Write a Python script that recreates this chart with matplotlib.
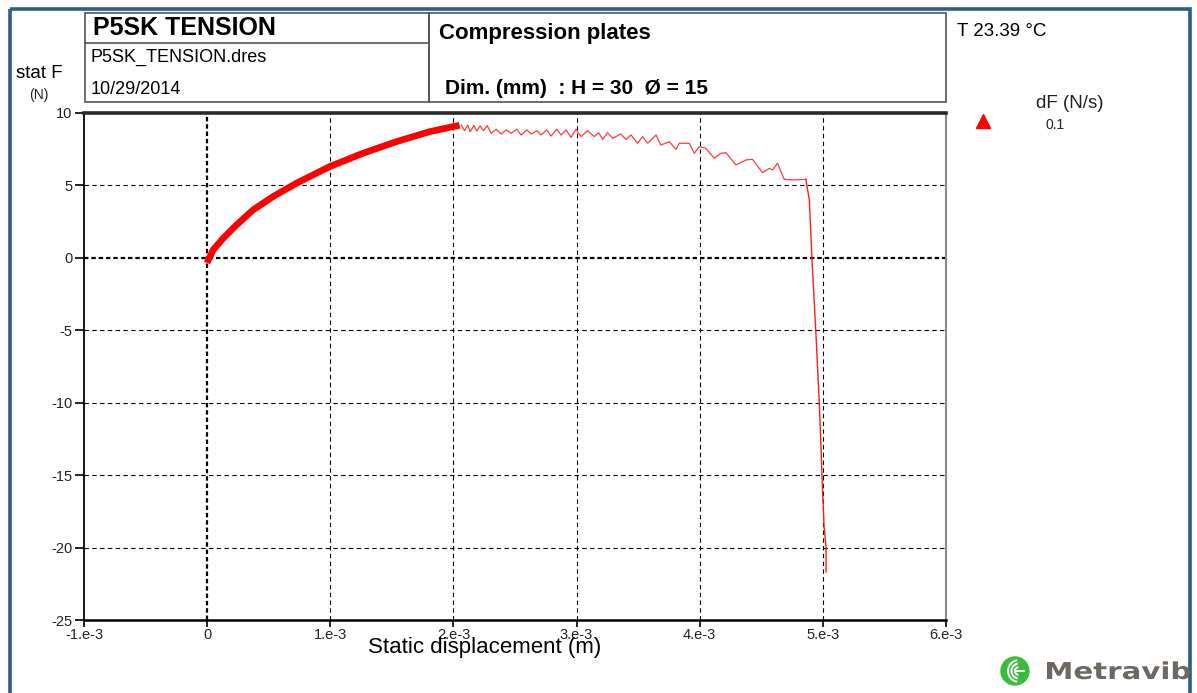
import matplotlib
matplotlib.use("Agg")
import matplotlib.pyplot as plt
from matplotlib.patches import Rectangle, Circle, Arc, PathPatch
from matplotlib.textpath import TextPath
from matplotlib.font_manager import FontProperties
from matplotlib.transforms import Affine2D

W, H = 1197, 693

# ---------------- data ----------------
x_ticks = [-1e-3, 0, 1e-3, 2e-3, 3e-3, 4e-3, 5e-3, 6e-3]
x_tick_labels = ["-1.e-3", "0", "1.e-3", "2.e-3", "3.e-3", "4.e-3", "5.e-3", "6.e-3"]
y_ticks = [-25, -20, -15, -10, -5, 0, 5, 10]
y_tick_labels = ["-25", "-20", "-15", "-10", "-5", "0", "5", "10"]

# displacement values in mm (1e-3 m), force in N
ramp_disp = [0.0, 0.01, 0.049, 0.13, 0.238, 0.373, 0.535, 0.725, 0.995, 1.265, 1.536, 1.806, 2.02, 2.05]
ramp_force = [-0.35, -0.14, 0.55, 1.35, 2.27, 3.31, 4.23, 5.15, 6.30, 7.22, 8.02, 8.71, 9.10, 9.15]

saw_disp = [2.065, 2.090, 2.117, 2.136, 2.166, 2.190, 2.217, 2.244, 2.274, 2.306,
            2.347, 2.388, 2.428, 2.469, 2.514, 2.550, 2.596, 2.631, 2.677, 2.712,
            2.758, 2.793, 2.839, 2.874, 2.915, 2.955, 2.996, 3.036, 3.090, 3.144,
            3.179, 3.212, 3.252, 3.293, 3.360, 3.401, 3.442, 3.496, 3.536, 3.577,
            3.645, 3.685, 3.753, 3.807, 3.834, 3.915, 3.956, 3.996, 4.050, 4.118,
            4.172, 4.213, 4.294, 4.375, 4.429, 4.510, 4.565, 4.592, 4.632, 4.686,
            4.754, 4.862]
saw_force = [9.17, 8.78, 9.17, 8.71, 9.13, 8.76, 9.11, 8.78, 9.13, 8.60,
             8.88, 8.55, 8.83, 8.60, 8.88, 8.48, 8.83, 8.55, 8.78, 8.48,
             8.83, 8.41, 8.88, 8.48, 8.83, 8.32, 8.88, 8.37, 8.78, 8.37,
             8.64, 8.18, 8.64, 8.25, 8.55, 8.18, 8.48, 7.91, 8.37, 7.91,
             8.48, 7.79, 8.02, 7.49, 7.91, 7.91, 7.22, 7.68, 7.56, 6.87,
             7.22, 7.26, 6.41, 6.76, 6.80, 5.88, 6.18, 6.07, 6.53, 5.42,
             5.38, 5.42]

drop_disp = [4.862, 4.89, 4.912, 4.945, 4.970, 4.985, 4.994, 5.010, 5.026, 5.026]
drop_force = [5.42, 4.0, -0.14, -5.46, -9.81, -13.05, -15.33, -18.58, -19.96, -21.68]

# ---------------- figure ----------------
fig = plt.figure(figsize=(W / 100, H / 100), dpi=100)
fig.patch.set_facecolor("white")

def fx(px):
    return px / W

def fy(py):
    return 1 - py / H

ax_left, ax_right, ax_top, ax_bot = 84, 946, 113, 620
ax = fig.add_axes([fx(ax_left), fy(ax_bot), fx(ax_right) - fx(ax_left), fy(ax_top) - fy(ax_bot)])
ax.set_xlim(-1e-3, 6e-3)
ax.set_ylim(-25, 10)

tick_font = ["Liberation Sans Narrow", "Liberation Sans", "DejaVu Sans"]

ax.set_xticks(x_ticks)
ax.set_xticklabels(x_tick_labels, fontfamily=tick_font, fontsize=10.5, color="#222222")
ax.set_yticks(y_ticks)
ax.set_yticklabels(y_tick_labels, fontfamily=tick_font, fontsize=10.5, color="#222222")
ax.tick_params(axis="x", direction="out", length=5, width=1.2, pad=0.5, color="black")
ax.tick_params(axis="y", direction="out", length=6.5, width=1.2, pad=2, color="black")

# grid
for xv in x_ticks[1:-1]:
    if xv == 0:
        ax.axvline(xv, color="black", lw=1.6, linestyle=(0, (2, 1.3)), zorder=1)
    else:
        ax.axvline(xv, color="black", lw=0.8, linestyle=(0, (4, 3)), zorder=1)
for yv in y_ticks[1:-1]:
    if yv == 0:
        ax.axhline(yv, color="black", lw=1.6, linestyle=(0, (2, 1.3)), zorder=1)
    else:
        ax.axhline(yv, color="black", lw=0.8, linestyle=(0, (4, 3)), zorder=1)

ax.spines["top"].set_linewidth(2.6)
ax.spines["top"].set_color("#2a2a2a")
ax.spines["right"].set_linewidth(1.5)
ax.spines["right"].set_color("#8a8a8a")
ax.spines["left"].set_linewidth(1.3)
ax.spines["left"].set_color("black")
ax.spines["bottom"].set_linewidth(1.8)
ax.spines["bottom"].set_color("black")

# data curves
ax.plot([d * 1e-3 for d in ramp_disp], ramp_force, color="#ff0000", lw=4.8,
        solid_capstyle="butt", zorder=3)
ax.plot([d * 1e-3 for d in saw_disp], saw_force, color="#ff3a3a", lw=0.9, zorder=3)
ax.plot([d * 1e-3 for d in drop_disp], drop_force, color="#ff1a1a", lw=1.0, zorder=3)

# ---------------- overlay in pixel coordinates ----------------
ov = fig.add_axes([0, 0, 1, 1], zorder=5)
ov.set_xlim(0, W)
ov.set_ylim(H, 0)
ov.axis("off")
ov.patch.set_alpha(0)

frame_col = "#2e5d8a"
ov.add_patch(Rectangle((10, 9), 1180, 720, fill=False, ec=frame_col, lw=2.6))

box_col = "#555555"
ov.add_patch(Rectangle((85, 13), 344, 89, fill=False, ec=box_col, lw=1.2))
ov.plot([85, 429], [43, 43], color=box_col, lw=1.2)
ov.add_patch(Rectangle((429, 13), 517, 89, fill=False, ec=box_col, lw=1.2))

txt_font = ["Liberation Sans", "DejaVu Sans"]
ov.text(93, 28, "P5SK TENSION", fontsize=18, fontweight="bold", family=txt_font,
        ha="left", va="center", color="black")
ov.text(91, 57, "P5SK_TENSION.dres", fontsize=13, family=txt_font,
        ha="left", va="center", color="black")
ov.text(91, 90, "10/29/2014", fontsize=13, family=txt_font,
        ha="left", va="center", color="black")
ov.text(439, 34, "Compression plates", fontsize=16, fontweight="bold", family=txt_font,
        ha="left", va="center", color="black")
ov.text(445, 89, "Dim. (mm)  : H = 30  Ø = 15", fontsize=15, fontweight="bold",
        family=txt_font, ha="left", va="center", color="black")
ov.text(16, 73, "stat F", fontsize=13.5, family=txt_font, ha="left", va="center", color="black")
ov.text(39, 95, "(N)", fontsize=10, family=txt_font, ha="center", va="center", color="#222222")
ov.text(957, 31, "T 23.39 °C", fontsize=13.5, family=txt_font, ha="left", va="center", color="black")
ov.text(1036, 103, "dF (N/s)", fontsize=13.5, family=txt_font, ha="left", va="center", color="#222222")
ov.text(1045, 125, "0.1", fontsize=10, family=txt_font, ha="left", va="center", color="#222222")
ov.plot([983], [121], marker="^", color="red", markersize=10, linestyle="none")

ov.text(485, 648, "Static displacement (m)", fontsize=16, family=txt_font,
        ha="center", va="center", color="black")

# Metravib logo
green = "#3dbb3d"
ov.add_patch(Circle((1015, 671), 14, color=green))
for r in (4, 7.5, 11):
    ov.add_patch(Arc((1019, 671), 2 * r, 2 * r, theta1=100, theta2=260, color="white", lw=1.4))
ov.plot([1016, 1024], [671, 671], color="white", lw=1.4)

tp = TextPath((0, 0), "Metravib", size=1, prop=FontProperties(family="DejaVu Sans", weight="bold"))
bb = tp.get_extents()
target_w, cap_h = 143, 17
sx = target_w / bb.width
sy = cap_h / 0.73
tr = Affine2D().translate(-bb.x0, 0).scale(sx, -sy).translate(1047, 679)
ov.add_patch(PathPatch(tr.transform_path(tp), color="#6e6862", lw=0))

fig.savefig("out.png", dpi=100)
